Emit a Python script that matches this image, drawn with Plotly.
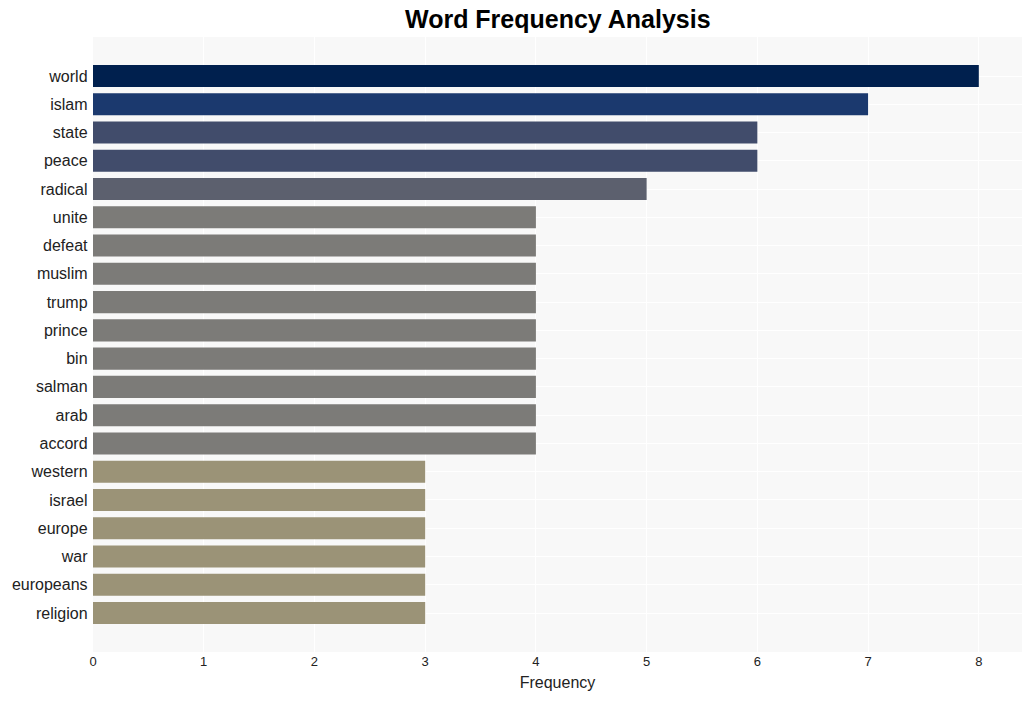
import plotly.graph_objects as go

words = ["world", "islam", "state", "peace", "radical", "unite", "defeat", "muslim",
         "trump", "prince", "bin", "salman", "arab", "accord", "western", "israel",
         "europe", "war", "europeans", "religion"]
freqs = [8, 7, 6, 6, 5, 4, 4, 4, 4, 4, 4, 4, 4, 4, 3, 3, 3, 3, 3, 3]
color_by_freq = {8: "#00204e", 7: "#1b396e", 6: "#414c6b", 5: "#5c606e",
                 4: "#7c7b78", 3: "#9b9377"}
colors = [color_by_freq[f] for f in freqs]

fig = go.Figure(go.Bar(
    x=freqs, y=words, orientation="h",
    marker=dict(color=colors, line=dict(width=0)),
    width=0.78,
))

n = len(words)
fig.update_layout(
    width=1033, height=701,
    margin=dict(l=93, r=11, t=37, b=49),
    paper_bgcolor="white",
    plot_bgcolor="#f8f8f8",
    font=dict(family="Liberation Sans, Arial, sans-serif", color="#222"),
    title=dict(text="<b>Word Frequency Analysis</b>", x=0.54, xanchor="center",
               y=0.972, yanchor="middle",
               font=dict(size=25, color="black")),
    xaxis=dict(title=dict(text="Frequency", font=dict(size=16), standoff=8),
               range=[0, 8.39], dtick=1, showgrid=True, gridcolor="white",
               gridwidth=1, zeroline=False, tickfont=dict(size=13),
               ticks="", showline=False),
    yaxis=dict(categoryorder="array", categoryarray=words,
               range=[n - 1 + 1.38, -1.38], showgrid=True, gridcolor="white",
               tickfont=dict(size=16), ticks="", ticksuffix=" ", showline=False),
    showlegend=False,
)

fig.write_html("out.html")
